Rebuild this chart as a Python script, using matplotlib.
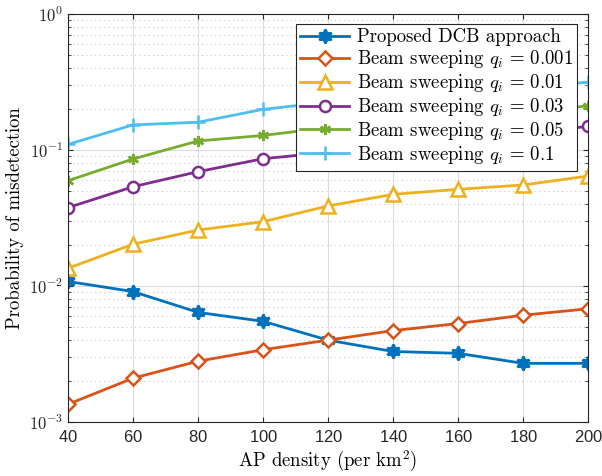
import math

import matplotlib
matplotlib.use('Agg')
import matplotlib.pyplot as plt
from matplotlib.ticker import FuncFormatter, LogLocator, NullFormatter

# AP density (per km^2)
density = [40, 60, 80, 100, 120, 140, 160, 180, 200]

p_dcb = [0.0108, 0.0091, 0.0064, 0.0055, 0.0040, 0.0033, 0.0032, 0.0027, 0.0027]
p_q0001 = [0.00135, 0.0021, 0.0028, 0.0034, 0.0040, 0.0047, 0.0053, 0.0061, 0.0068]
p_q001 = [0.0135, 0.0203, 0.0258, 0.0297, 0.0388, 0.0472, 0.0514, 0.0553, 0.0644]
p_q003 = [0.0377, 0.0537, 0.0693, 0.0863, 0.096, 0.108, 0.120, 0.134, 0.149]
p_q005 = [0.0595, 0.0859, 0.1165, 0.128, 0.146, 0.160, 0.175, 0.191, 0.211]
p_q01 = [0.110, 0.153, 0.160, 0.199, 0.225, 0.250, 0.270, 0.290, 0.315]

labels = ['Proposed DCB approach',
          r'Beam sweeping $q_i\, =\, 0.001$',
          r'Beam sweeping $q_i\, =\, 0.01$',
          r'Beam sweeping $q_i\, =\, 0.03$',
          r'Beam sweeping $q_i\, =\, 0.05$',
          r'Beam sweeping $q_i\, =\, 0.1$']

plt.rcParams['font.family'] = 'serif'
plt.rcParams['font.serif'] = ['cmr10']
plt.rcParams['mathtext.fontset'] = 'cm'
plt.rcParams['axes.formatter.use_mathtext'] = True

fig = plt.figure(figsize=(6.02, 4.76), dpi=100)
ax = fig.add_axes([0.113, 0.1134, 0.864, 0.8572])

series = [p_dcb, p_q0001, p_q001, p_q003, p_q005, p_q01]
colors = ['#0072BD', '#D95319', '#EDB120', '#7E2F8E', '#77AC30', '#4DBEEE']
markers = [(6, 1, 0), 'D', '^', 'o', (6, 2, 0), '+']
faces = ['#0072BD', 'white', 'white', 'white', '#77AC30', '#4DBEEE']
sizes = [10, 7, 10, 8, 8, 10]

for y, c, m, f, s, lab in zip(series, colors, markers, faces, sizes, labels):
	ax.plot(density, y, '-', color=c, marker=m, markerfacecolor=f, markeredgecolor=c,
	        markersize=s, markeredgewidth=1.8, linewidth=2.0, label=lab)

ax.set_yscale('log')
ax.set_xlim(40, 200)
ax.set_ylim(1e-3, 1)
ax.set_xticks(density)
ax.yaxis.set_major_locator(LogLocator(base=10, numticks=10))
ax.yaxis.set_minor_locator(LogLocator(base=10, subs=range(2, 10), numticks=10))
ax.yaxis.set_minor_formatter(NullFormatter())
ax.yaxis.set_major_formatter(FuncFormatter(lambda v, p: r'$\mathsf{10^{%d}}$' % round(math.log10(v))))

ax.grid(True, which='major', color='#dcdcdc', linewidth=0.8)
ax.grid(True, which='minor', axis='y', color='#c8c8c8', linestyle=(0, (1, 3)), linewidth=0.8)
ax.set_axisbelow(True)

ax.tick_params(which='both', direction='in', top=True, right=True, color='#262626')
ax.tick_params(axis='x', labelsize=12, labelfontfamily='Liberation Sans', labelcolor='#262626', pad=5)
ax.tick_params(axis='y', labelsize=12, labelcolor='#262626')
for sp in ax.spines.values():
	sp.set_color('#262626')
	sp.set_linewidth(0.8)

ax.set_xlabel(r'AP density (per km$^2$)', fontsize=13.5, labelpad=3)
ax.set_ylabel('Probability of misdetection', fontsize=13.5, labelpad=4)

leg = ax.legend(loc='upper right', bbox_to_anchor=(0.979, 0.976), borderaxespad=0, fontsize=13.5,
                fancybox=False, edgecolor='#262626', framealpha=1, borderpad=0.25, labelspacing=0.1,
                handlelength=2.6, handletextpad=0.4)
leg.get_frame().set_linewidth(0.8)

fig.savefig('out.png', dpi=100)
